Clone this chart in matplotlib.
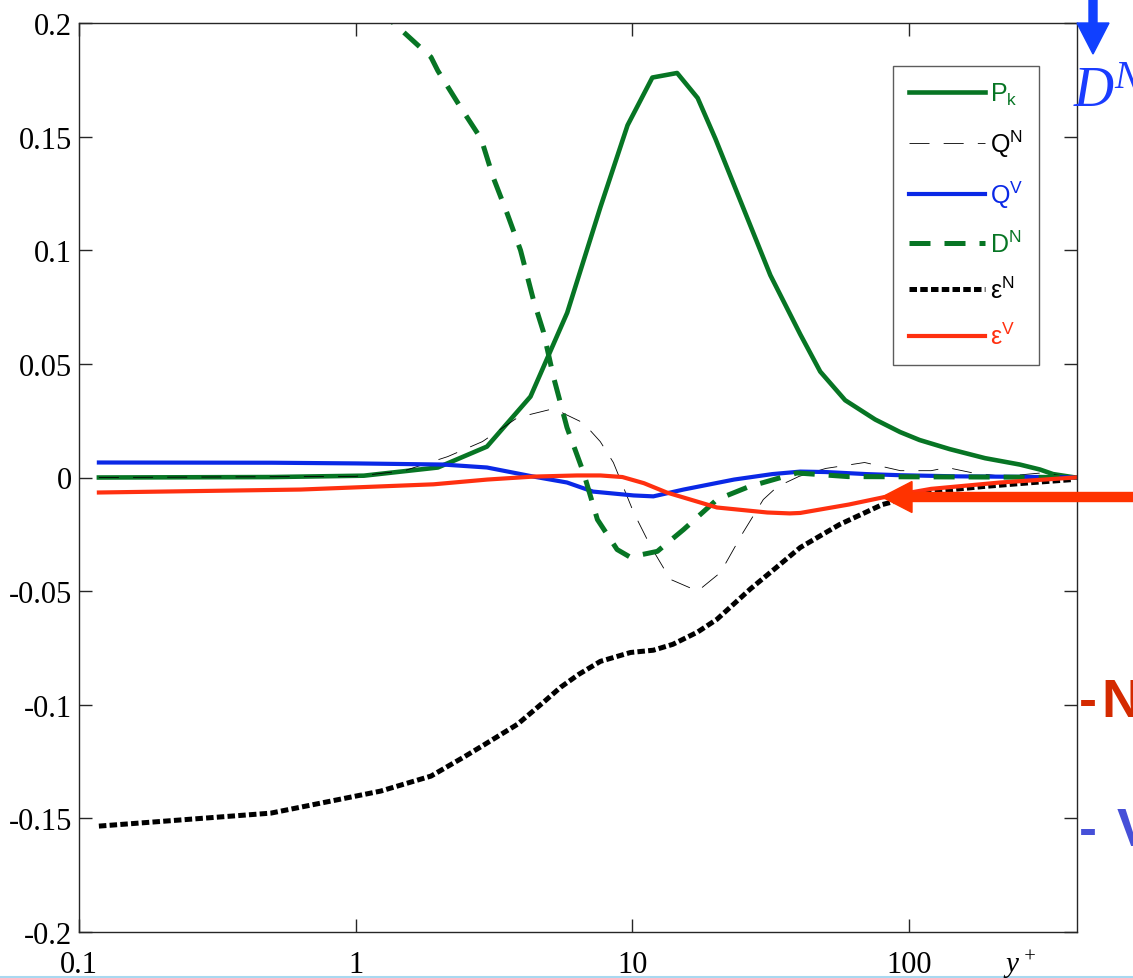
import matplotlib
matplotlib.use("Agg")
import matplotlib.pyplot as plt
from matplotlib.patches import FancyArrow
from matplotlib.lines import Line2D

plt.rcParams['mathtext.default'] = 'regular'

# ---- budget terms vs y+ ----
pk_x = [0.118, 0.5, 1.07, 1.98, 2.98, 4.28, 5.81, 7.66, 9.6, 11.8, 14.5, 17.2, 19.95,
        24.5, 31.5, 40.4, 47.7, 58.7, 75.4, 92.7, 109, 140, 188, 251, 297, 331, 398]
pk_y = [0.0, 0.0002, 0.0008, 0.0044, 0.0136, 0.0356, 0.0725, 0.119, 0.155, 0.176, 0.178,
        0.167, 0.149, 0.122, 0.089, 0.063, 0.0466, 0.034, 0.0255, 0.020, 0.0165, 0.0125,
        0.0085, 0.0057, 0.0035, 0.0015, 0.0]

qn_x = [0.118, 1, 1.5, 2.15, 2.87, 3.85, 5.19, 6.65, 7.65, 8.53, 10.1, 11.6, 13.7, 17.2,
        20.8, 25.1, 29.7, 33.4, 40, 50, 69, 93, 120, 137, 170, 220, 300, 398]
qn_y = [0.0, 0.0005, 0.003, 0.0092, 0.0158, 0.0264, 0.0303, 0.024, 0.0158, 0.0066, -0.0154,
        -0.030, -0.0448, -0.050, -0.0418, -0.0242, -0.0097, -0.004, 0.0005, 0.004, 0.0066,
        0.003, 0.003, 0.0044, 0.002, 0.0005, 0.002, 0.0]

qv_x = [0.118, 0.5, 1, 2.07, 2.98, 4.39, 5.8, 7.2, 10.1, 11.9, 15.3, 23.3, 32, 40.4, 50,
        70, 93, 150, 250, 398]
qv_y = [0.0066, 0.0065, 0.0062, 0.0057, 0.0044, 0.0004, -0.0022, -0.0062, -0.0079, -0.0083,
        -0.0053, -0.0009, 0.0015, 0.0026, 0.0024, 0.0015, 0.001, 0.0005, 0.0003, 0.0]

dn_x = [1.2, 1.37, 1.87, 1.98, 2.39, 2.84, 3.14, 3.53, 3.94, 4.39, 4.77, 5.19, 5.8, 6.66,
        7.47, 8.8, 9.8, 12.3, 15.3, 20.2, 26.4, 39.3, 60, 100, 200, 398]
dn_y = [0.206, 0.2, 0.185, 0.179, 0.163, 0.149, 0.132, 0.116, 0.100, 0.078, 0.064, 0.044,
        0.022, 0.002, -0.0185, -0.0317, -0.035, -0.0325, -0.0229, -0.0097, -0.004, 0.002,
        0.0004, 0.0003, 0.0002, 0.0]

en_x = [0.118, 0.493, 1, 1.23, 1.87, 2.46, 2.93, 3.84, 4.77, 5.5, 6.4, 7.66, 9.84, 11.9,
        14.0, 17.2, 20.2, 26.7, 32.8, 40.4, 56, 80, 121, 184, 281, 390]
en_y = [-0.1534, -0.1477, -0.1402, -0.138, -0.1314, -0.123, -0.1174, -0.1086, -0.0989,
        -0.0923, -0.0866, -0.0809, -0.077, -0.076, -0.0734, -0.068, -0.0624, -0.049, -0.040,
        -0.0308, -0.0207, -0.0119, -0.0062, -0.004, -0.0022, -0.0009]

ev_x = [0.118, 0.633, 1.91, 2.99, 4.39, 6.3, 7.66, 9.2, 11.0, 13.3, 20.2, 30.7, 37, 40.4,
        60.5, 80, 120, 213, 398]
ev_y = [-0.0066, -0.0053, -0.003, -0.0009, 0.0004, 0.0009, 0.0009, 0.0002, -0.0025, -0.0066,
        -0.0132, -0.0154, -0.0158, -0.0156, -0.0119, -0.0088, -0.005, -0.0022, 0.0]

xticks = [0.1, 1, 10, 100]
xtick_labels = ['0.1', '1', '10', '100']
yticks = [-0.2, -0.15, -0.1, -0.05, 0, 0.05, 0.1, 0.15, 0.2]
ytick_labels = ['-0.2', '-0.15', '-0.1', '-0.05', '0', '0.05', '0.1', '0.15', '0.2']

green = '#077524'
blue = '#0a28e6'
red = '#ff3010'

fig = plt.figure(figsize=(11.33, 9.79), dpi=100)
ax = fig.add_axes([79 / 1133, 46 / 979, 998 / 1133, 909 / 979])

ax.plot(pk_x, pk_y, color=green, lw=3.3, label=r'$P_k$')
ax.plot(qn_x, qn_y, color='black', lw=0.6, ls=(0, (24, 17)), label=r'$Q^N$')
ax.plot(qv_x, qv_y, color=blue, lw=3.0, label=r'$Q^V$')
ax.plot(dn_x, dn_y, color=green, lw=3.6, ls=(0, (4.2, 2.8)), label=r'$D^N$')
ax.plot(en_x, en_y, color='black', lw=3.6, ls=(0, (1.5, 0.65)), label=r'$ε^N$')
ax.plot(ev_x, ev_y, color=red, lw=3.0, label=r'$ε^V$')

ax.set_xscale('log')
ax.set_xlim(0.1, 404)
ax.set_ylim(-0.2, 0.2)
ax.set_xticks(xticks)
ax.set_xticklabels(xtick_labels)
ax.set_yticks(yticks)
ax.set_yticklabels(ytick_labels)
ax.xaxis.set_minor_locator(matplotlib.ticker.NullLocator())
ax.tick_params(direction='in', length=9.5, width=1.0, top=True, right=True,
               colors='#262626', labelcolor='black')
ax.tick_params(axis='x', pad=13)
ax.tick_params(axis='y', pad=5)
for lab in ax.get_xticklabels() + ax.get_yticklabels():
    lab.set_fontfamily('Liberation Serif')
    lab.set_fontsize(22)
for sp in ax.spines.values():
    sp.set_color('#262626')
    sp.set_linewidth(1.0)

fig.text(1003 / 1133, 0.006, r'$y^+$', fontfamily='Liberation Serif', style='italic',
         fontsize=21, va='baseline')

leg = ax.legend(loc='upper left', bbox_to_anchor=(0.816, 0.953), borderaxespad=0,
                prop={'family': 'Liberation Sans', 'size': 18}, labelcolor='linecolor',
                handlelength=3.05, handletextpad=0.2, labelspacing=0.8,
                borderpad=0.62, fancybox=False, edgecolor='#333333')
leg.get_frame().set_linewidth(1.0)

# slide annotations running off the right edge
inch = fig.dpi_scale_trans
fig.patches.append(FancyArrow(10.93, 9.95, 0, -0.71, width=0.08, head_width=0.32,
                              head_length=0.31, length_includes_head=True,
                              color='#1040ff', transform=inch, figure=fig))
fig.patches.append(FancyArrow(11.6, 4.81, -2.78, 0, width=0.09, head_width=0.31,
                              head_length=0.30, length_includes_head=True,
                              color='#ff3300', transform=inch, figure=fig, zorder=5))
fig.text(1073 / 1133, 1 - 107 / 979, r'$D^N$', fontfamily='Liberation Serif', style='italic',
         fontsize=40, color='#1a3cff', va='baseline')
fig.text(1079 / 1133, 1 - 717 / 979, '-', fontfamily='Liberation Sans', weight='bold',
         fontsize=39, color='#d42a00', va='baseline')
fig.text(1101 / 1133, 1 - 717 / 979, 'N', fontfamily='Liberation Sans', weight='bold',
         fontsize=39, color='#d42a00', va='baseline')
fig.text(1079 / 1133, 1 - 846 / 979, '-', fontfamily='Liberation Sans', weight='bold',
         fontsize=39, color='#4650d8', va='baseline')
fig.text(1117 / 1133, 1 - 846 / 979, 'V', fontfamily='Liberation Sans', weight='bold',
         fontsize=39, color='#4650d8', va='baseline')
fig.add_artist(Line2D([0, 1], [0.0015, 0.0015], transform=fig.transFigure,
                      color='#a8d8f0', lw=1.5))

fig.savefig('out.png', dpi=100)
